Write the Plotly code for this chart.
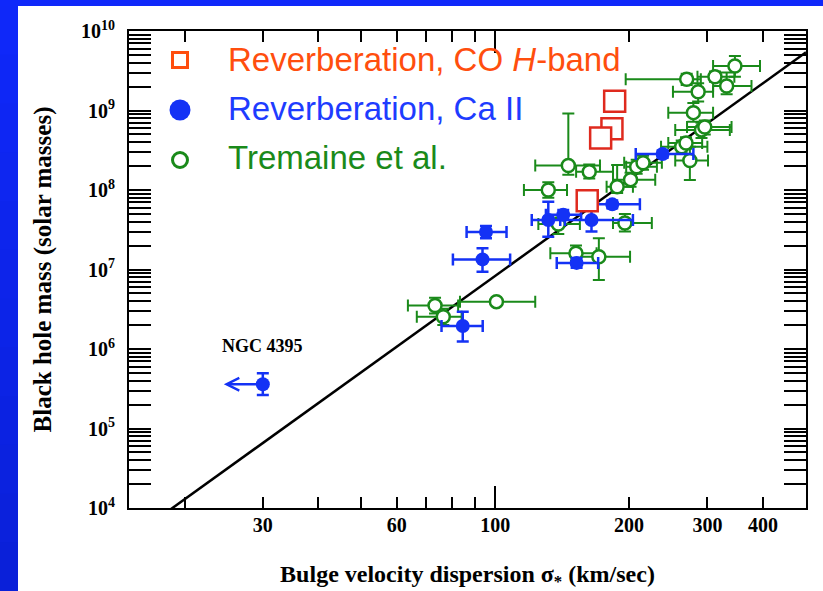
import numpy as np
import plotly.graph_objects as go

# ---- data -----------------------------------------------------------------
# Tremaine et al. sample (sigma in km/s, black hole mass in solar masses)
green_sigma = [346, 269.5, 312, 331.5, 286, 279, 291, 296, 262.6, 274, 268.6, 208, 215,
               146, 162.7, 131.6, 188, 201.5, 195.7, 138.6, 151.9, 171, 73.2, 76.4, 100.6]
green_mass = [3.63e9, 2.47e9, 2.66e9, 2.03e9, 1.72e9, 9.4e8, 5.7e8, 6.2e8, 3.5e8, 2.35e8, 3.9e8,
              1.96e8, 2.2e8, 2.03e8, 1.7e8, 1.0e8, 1.1e8, 1.35e8, 3.85e7, 3.73e7, 1.6e7,
              1.45e7, 3.52e6, 2.55e6, 3.94e6]
green_sigma_lo = [309, 196.5, 285, 309, 251, 245, 254, 270, 236, 254, 245, 197, 195,
                  123, 152, 116, 178, 184, 184, 125, 133, 152, 63.6, 66.6, 83.3]
green_sigma_hi = [394, 290, 345, 377, 309, 309, 337, 340, 300, 301, 292, 231, 237,
                  172, 184, 145, 204, 229, 225, 155, 169, 201, 82.5, 84, 123]
green_mass_lo = [2.66e9, 2.1e9, 2.3e9, 1.6e9, 1.3e9, 7.2e8, 4.5e8, 5.0e8, 2.9e8, 1.34e8, 3.3e8,
                 1.6e8, 1.8e8, 1.55e8, 1.4e8, 8.0e7, 9.2e7, 1.1e8, 3.0e7, 2.8e7, 1.3e7,
                 7.4e6, 2.8e6, 2.0e6, 3.6e6]
green_mass_hi = [4.85e9, 2.9e9, 3.1e9, 3.0e9, 2.2e9, 1.24e9, 7.0e8, 7.5e8, 4.2e8, 3.5e8, 4.6e8,
                 2.4e8, 2.7e8, 9.2e8, 2.1e8, 1.25e8, 2.06e8, 1.65e8, 5.0e7, 4.8e7, 2.0e7,
                 2.47e7, 4.4e6, 3.2e6, 4.3e6]

# Reverberation-mapped AGN with Ca II triplet dispersions
blue_sigma = [95.3, 93.6, 84.5, 131.6, 142.2, 164.6, 183.3, 152.4, 237.9]
blue_mass = [2.96e7, 1.34e7, 1.95e6, 4.2e7, 4.9e7, 4.2e7, 6.6e7, 1.21e7, 2.84e8]
blue_sigma_lo = [86.2, 80.3, 75.7, 120.8, 130, 140, 169, 137.5, 207]
blue_sigma_hi = [106, 108, 93.7, 143.5, 156, 204, 211.5, 170.4, 279]
blue_mass_lo = [2.47e7, 9.4e6, 1.24e6, 2.59e7, 4.3e7, 3.0e7, 5.9e7, 1.05e7, 2.55e8]
blue_mass_hi = [3.52e7, 1.85e7, 2.94e6, 7.1e7, 5.6e7, 5.6e7, 7.4e7, 1.4e7, 3.15e8]

# NGC 4395: upper limit on sigma
ngc_sigma = [30]
ngc_mass = [3.6e5]
ngc_mass_lo = [2.64e5]
ngc_mass_hi = [4.94e5]

# Reverberation-mapped AGN with CO H-band dispersions
co_sigma = [185.6, 183, 172.6, 161]
co_mass = [1.31e9, 5.9e8, 4.5e8, 7.3e7]

# M-sigma fit line
fit_sigma = [18.5, 500]
fit_mass = [9.4e3, 5.4e9]

x_tickvals = [30, 60, 100, 200, 300, 400]
x_ticktext = ["30", "60", "100", "200", "300", "400"]
x_minorvals = [20, 40, 50, 70, 80, 90]
y_exponents = [4, 5, 6, 7, 8, 9, 10]

legend_labels = ["Reverberation, CO <i>H</i>-band", "Reverberation, Ca II", "Tremaine et al."]

# ---- styling --------------------------------------------------------------
W, H = 823, 591
ML, MR, MT, MB = 129, 17, 31, 83
PW, PH = W - ML - MR, H - MT - MB
X_RANGE = [np.log10(15), np.log10(500)]
Y_RANGE = [4, 10]

ORANGE = "#FF4E0E"
RED = "#DF2A1E"
BLUE = "#1432F5"
BLUE_TXT = "#1E3CFF"
GREEN = "#1A8A1A"
SERIF = "Liberation Serif"
SANS = "Liberation Sans"


def px_to_paper_x(px):
    return (px - ML) / PW


def px_to_paper_y(py):
    return (H - MB - py) / PH


def errs(center, lo, hi):
    c = np.asarray(center, float)
    return np.asarray(hi, float) - c, c - np.asarray(lo, float)


fig = go.Figure()

# fit line
fig.add_trace(go.Scatter(x=fit_sigma, y=fit_mass, mode="lines",
                         line=dict(color="black", width=2.5), showlegend=False))

# Tremaine sample
gp, gm = errs(green_sigma, green_sigma_lo, green_sigma_hi)
mp, mm = errs(green_mass, green_mass_lo, green_mass_hi)
fig.add_trace(go.Scatter(
    x=green_sigma, y=green_mass, mode="markers", showlegend=False,
    marker=dict(symbol="circle", size=13, color="white", line=dict(color=GREEN, width=2.5)),
    error_x=dict(type="data", array=gp, arrayminus=gm, color=GREEN, thickness=2, width=6),
    error_y=dict(type="data", array=mp, arrayminus=mm, color=GREEN, thickness=2, width=6),
))

# Ca II reverberation sample
bp, bm = errs(blue_sigma, blue_sigma_lo, blue_sigma_hi)
bmp, bmm = errs(blue_mass, blue_mass_lo, blue_mass_hi)
fig.add_trace(go.Scatter(
    x=blue_sigma, y=blue_mass, mode="markers", showlegend=False,
    marker=dict(symbol="circle", size=14, color=BLUE),
    error_x=dict(type="data", array=bp, arrayminus=bm, color=BLUE, thickness=2.5, width=6),
    error_y=dict(type="data", array=bmp, arrayminus=bmm, color=BLUE, thickness=2.5, width=6),
))

# NGC 4395
nmp, nmm = errs(ngc_mass, ngc_mass_lo, ngc_mass_hi)
fig.add_trace(go.Scatter(
    x=ngc_sigma, y=ngc_mass, mode="markers", showlegend=False,
    marker=dict(symbol="circle", size=14, color=BLUE),
    error_y=dict(type="data", array=nmp, arrayminus=nmm, color=BLUE, thickness=2.5, width=6),
))

# CO H-band reverberation sample
fig.add_trace(go.Scatter(
    x=co_sigma, y=co_mass, mode="markers", showlegend=False,
    marker=dict(symbol="square", size=21, color="white", line=dict(color=RED, width=2.5)),
))

# tick overlay carrying the long tick at 100 km/s
fig.add_trace(go.Scatter(x=[], y=[], xaxis="x3", yaxis="y", showlegend=False))

# legend glyphs on a unit helper axis
leg_rows_px = [60, 110, 160]
leg_x = px_to_paper_x(180)
leg_styles = [
    dict(symbol="square", size=15, color="white", line=dict(color=ORANGE, width=3)),
    dict(symbol="circle", size=21, color=BLUE),
    dict(symbol="circle", size=15, color="white", line=dict(color=GREEN, width=3)),
]
for row, st in zip(leg_rows_px, leg_styles):
    fig.add_trace(go.Scatter(x=[leg_x], y=[px_to_paper_y(row)], mode="markers",
                             marker=st, xaxis="x2", yaxis="y2", showlegend=False,
                             hoverinfo="skip"))

leg_colors = [ORANGE, BLUE_TXT, GREEN]
leg_text_px = [59, 109, 157]
annotations = []
for lab, col, row in zip(legend_labels, leg_colors, leg_text_px):
    annotations.append(dict(x=px_to_paper_x(226), y=px_to_paper_y(row), xref="paper", yref="paper",
                            text=lab, showarrow=False, xanchor="left", yanchor="middle",
                            font=dict(family=SANS, size=33, color=col)))

# NGC 4395 label and upper-limit arrow
annotations.append(dict(x=np.log10(ngc_sigma[0]), y=np.log10(ngc_mass[0]), xref="x", yref="y",
                        text="NGC 4395", showarrow=False, yshift=38, xanchor="center",
                        yanchor="middle", font=dict(family=SERIF, size=18, color="black", weight="bold")))
annotations.append(dict(x=np.log10(ngc_sigma[0]), y=np.log10(ngc_mass[0]), xref="x", yref="y",
                        text="", showarrow=True, arrowhead=5, arrowsize=1, arrowwidth=2.5,
                        arrowcolor=BLUE, ax=39, ay=0, xshift=-39))

# slide frame: blue strip along the top and down the left side (darker toward the bottom)
shapes = [dict(type="rect", xref="paper", yref="paper",
               x0=px_to_paper_x(-2), x1=px_to_paper_x(W + 2),
               y0=px_to_paper_y(6), y1=px_to_paper_y(-2),
               line=dict(width=0), fillcolor="rgb(15,40,250)", layer="above")]
n_band = 12
top_rgb = np.array([15, 40, 250])
bot_rgb = np.array([10, 32, 216])
for i in range(n_band):
    f = (i + 0.5) / n_band
    c = (top_rgb * (1 - f) + bot_rgb * f).round().astype(int)
    y0 = 6 + (H - 6) * i / n_band
    y1 = 6 + (H - 6) * (i + 1) / n_band + 1
    shapes.append(dict(type="rect", xref="paper", yref="paper",
                       x0=px_to_paper_x(-2), x1=px_to_paper_x(18),
                       y0=px_to_paper_y(y1), y1=px_to_paper_y(y0),
                       line=dict(width=0), fillcolor=f"rgb({c[0]},{c[1]},{c[2]})", layer="above"))

y_minor = [m * 10 ** e for e in range(4, 10) for m in range(2, 10)]

fig.update_layout(
    width=W, height=H,
    margin=dict(l=ML, r=MR, t=MT, b=MB, autoexpand=False),
    paper_bgcolor="white", plot_bgcolor="white",
    showlegend=False,
    annotations=annotations,
    shapes=shapes,
    xaxis=dict(
        type="log", range=X_RANGE, showgrid=False, zeroline=False, automargin=False,
        showline=True, linecolor="black", linewidth=2, mirror="allticks",
        ticks="inside", ticklen=11, tickwidth=1.5, tickcolor="black",
        tickmode="array", tickvals=x_tickvals, ticktext=x_ticktext,
        tickfont=dict(family=SERIF, size=20, color="black", weight="bold"),
        ticklabelstandoff=-2,
        minor=dict(ticks="inside", ticklen=11, tickwidth=1.5, tickcolor="black",
                   tickmode="array", tickvals=x_minorvals),
        title=dict(text="Bulge velocity dispersion σ<sub>*</sub> (km/sec)", standoff=33,
                   font=dict(family=SERIF, size=24, color="black", weight="bold")),
    ),
    xaxis3=dict(
        type="log", range=X_RANGE, overlaying="x", anchor="y", showgrid=False, zeroline=False,
        showline=False, mirror="allticks", ticks="inside", ticklen=22, tickwidth=1.5,
        tickcolor="black", tickmode="array", tickvals=[100], showticklabels=False,
        automargin=False,
    ),
    yaxis=dict(
        type="log", range=Y_RANGE, showgrid=False, zeroline=False, automargin=False,
        showline=True, linecolor="black", linewidth=2, mirror="allticks",
        ticks="inside", ticklen=22, tickwidth=1.5, tickcolor="black",
        tickmode="array", tickvals=[10 ** e for e in y_exponents],
        ticktext=[f"10<sup>{e}</sup>" for e in y_exponents],
        tickfont=dict(family=SERIF, size=20, color="black", weight="bold"),
        ticklabelstandoff=8,
        minor=dict(ticks="inside", ticklen=11, tickwidth=1.5, tickcolor="black",
                   tickmode="array", tickvals=y_minor),
        title=dict(text="Black hole mass (solar masses)", standoff=22,
                   font=dict(family=SERIF, size=25, color="black", weight="bold")),
    ),
    xaxis2=dict(range=[0, 1], overlaying="x", visible=False, anchor="y2", automargin=False),
    yaxis2=dict(range=[0, 1], overlaying="y", visible=False, anchor="x2", automargin=False),
)

fig.write_html("out.html")
